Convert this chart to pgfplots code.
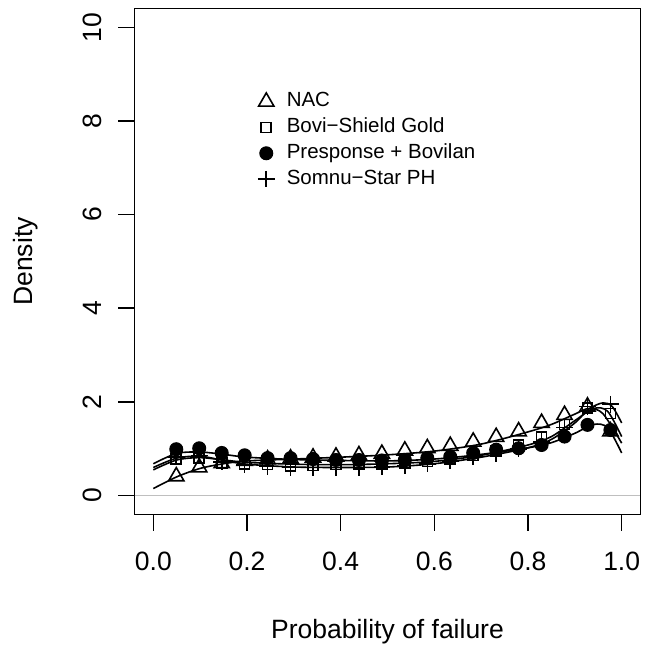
\documentclass[border=0pt]{standalone}
\usepackage{fontspec}
\setmainfont{Liberation Sans}
\usepackage{pgfplots}
\pgfplotsset{compat=1.18}
\begin{document}
\begin{tikzpicture}
\useasboundingbox (-134.6pt,-131.7pt) rectangle (520.4pt,514.3pt);
\begin{axis}[
  scale only axis, width=505.8pt, height=505.7pt,
  xmin=-0.04, xmax=1.04, ymin=-0.4, ymax=10.4,
  axis line style={line width=1.6pt},
  xtick={0,0.2,0.4,0.6,0.8,1}, xticklabels={0.0,0.2,0.4,0.6,0.8,1.0},
  ytick={0,2,4,6,8,10}, yticklabels={0,2,4,6,8,10},
  xtick pos=bottom, ytick pos=left,
  tick align=outside, major tick length=16.5pt,
  tick style={line width=1.6pt, black},
  ticklabel style={font=\fontsize{26.5}{30}\selectfont},
  xticklabel shift=18pt, yticklabel shift=13pt,
  yticklabel style={rotate=90},
  label style={font=\fontsize{26.5}{30}\selectfont},
  xlabel={Probability of failure}, ylabel={Density},
  xlabel style={at={(axis description cs:0.5,0)}, anchor=base, yshift=-123.7pt},
  ylabel style={at={([xshift=-101.6pt]axis description cs:0,0.5)}, anchor=base},
  legend cell align=left,
  legend style={draw=none, fill=none, inner sep=0pt,
    at={(axis cs:0.223,8.63)}, anchor=north west,
    row sep=5.8pt, column sep=12.2pt,
    nodes={inner sep=0pt, text height=15pt, text depth=5pt,
      font=\fontsize{20.5}{24}\selectfont, anchor=west}},
  legend image code/.code={\draw[#1] plot coordinates {(0pt,0pt)};},
]
\addplot[black!25, line width=1.2pt, forget plot] coordinates {(-0.04,0) (1.04,0)};

% smoothed curves
\addplot[line width=1.6pt, smooth, tension=0.5, forget plot] coordinates {
(0,0.15) (0.05,0.40) (0.1,0.58) (0.15,0.68) (0.2,0.74) (0.3,0.78) (0.4,0.82) (0.5,0.87)
(0.6,0.95) (0.7,1.10) (0.8,1.36) (0.85,1.52) (0.9,1.74) (0.93,1.86) (0.96,1.75) (1.0,1.12)};
\addplot[line width=1.6pt, smooth, tension=0.5, forget plot] coordinates {
(0,0.55) (0.05,0.76) (0.1,0.81) (0.15,0.76) (0.2,0.71) (0.3,0.67) (0.4,0.66) (0.5,0.68)
(0.6,0.73) (0.7,0.86) (0.8,1.08) (0.85,1.26) (0.9,1.60) (0.94,1.86) (0.97,1.80) (1.0,1.26)};
\addplot[line width=1.6pt, smooth, tension=0.5, forget plot] coordinates {
(0,0.68) (0.05,0.90) (0.1,0.93) (0.15,0.88) (0.2,0.82) (0.3,0.77) (0.4,0.75) (0.5,0.74)
(0.6,0.78) (0.7,0.88) (0.8,1.02) (0.85,1.13) (0.9,1.33) (0.94,1.52) (0.97,1.45) (1.0,0.91)};
\addplot[line width=1.6pt, smooth, tension=0.5, forget plot] coordinates {
(0,0.60) (0.05,0.80) (0.1,0.84) (0.15,0.75) (0.2,0.67) (0.3,0.61) (0.4,0.60) (0.5,0.61)
(0.6,0.68) (0.7,0.82) (0.8,1.02) (0.85,1.20) (0.9,1.55) (0.93,1.85) (0.96,1.98) (0.98,1.90) (1.0,1.55)};

% points
\addplot[only marks, mark=triangle, mark size=8.8pt, mark options={line width=1.6pt, draw=black, fill=none}] coordinates {
(0.049,0.41) (0.098,0.60) (0.146,0.69) (0.195,0.74) (0.244,0.77) (0.293,0.79) (0.341,0.81)
(0.390,0.83) (0.439,0.86) (0.488,0.89) (0.537,0.96) (0.585,1.01) (0.634,1.06) (0.683,1.15)
(0.732,1.25) (0.780,1.37) (0.829,1.55) (0.878,1.72) (0.927,1.90) (0.976,1.37)};
\addlegendentry{NAC}
\addplot[only marks, mark=square, mark size=5pt, mark options={line width=1.6pt, draw=black, fill=none}] coordinates {
(0.049,0.78) (0.098,0.80) (0.146,0.70) (0.195,0.68) (0.244,0.66) (0.293,0.63) (0.341,0.64)
(0.390,0.66) (0.439,0.67) (0.488,0.68) (0.537,0.70) (0.585,0.73) (0.634,0.78) (0.683,0.86)
(0.732,0.95) (0.780,1.08) (0.829,1.25) (0.878,1.52) (0.927,1.87) (0.976,1.75)};
\addlegendentry{Bovi\textminus Shield Gold}
\addplot[only marks, mark=*, mark size=6.5pt, mark options={line width=1pt, draw=black, fill=black}] coordinates {
(0.049,0.99) (0.098,1.01) (0.146,0.91) (0.195,0.86) (0.244,0.80) (0.293,0.80) (0.341,0.78)
(0.390,0.76) (0.439,0.76) (0.488,0.75) (0.537,0.76) (0.585,0.80) (0.634,0.83) (0.683,0.91)
(0.732,0.98) (0.780,1.01) (0.829,1.08) (0.878,1.26) (0.927,1.51) (0.976,1.40)};
\addlegendentry{Presponse + Bovilan}
\addplot[only marks, mark=+, mark size=8.3pt, mark options={line width=1.6pt, draw=black}] coordinates {
(0.049,0.82) (0.098,0.86) (0.146,0.72) (0.195,0.66) (0.244,0.62) (0.293,0.60) (0.341,0.60)
(0.390,0.60) (0.439,0.60) (0.488,0.61) (0.537,0.64) (0.585,0.68) (0.634,0.74) (0.683,0.82)
(0.732,0.90) (0.780,1.00) (0.829,1.15) (0.878,1.45) (0.927,1.90) (0.976,1.95)};
\addlegendentry{Somnu\textminus Star PH}
\end{axis}
\end{tikzpicture}
\end{document}
